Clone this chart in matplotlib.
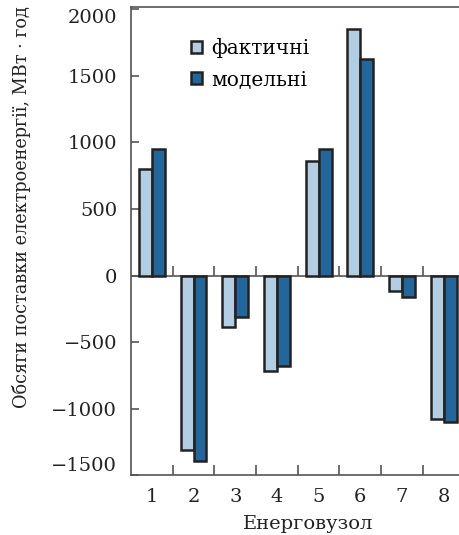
import numpy as np
import matplotlib
matplotlib.use("Agg")
import matplotlib.pyplot as plt

# дані
vuzly = [1, 2, 3, 4, 5, 6, 7, 8]
faktychni = [800, -1310, -385, -720, 860, 1850, -120, -1075]
modelni = [950, -1390, -315, -680, 950, 1630, -165, -1100]
y_ticks = [-1500, -1000, -500, 0, 500, 1000, 1500, 2000]

plt.rcParams['font.family'] = ['DejaVu Serif']
plt.rcParams['font.size'] = 14
plt.rcParams['axes.unicode_minus'] = True

c_light = '#b3cde2'
c_dark = '#23669b'
c_axis = '#555555'

fig = plt.figure(figsize=(4.6, 5.35), dpi=100)
ax = fig.add_axes([0.2848, 0.1118, 0.7152, 0.8746])

x = np.array(vuzly)
w = 0.31
ax.axhline(0, color=c_axis, lw=1.2, zorder=1)
ax.bar(x - w / 2, faktychni, w, color=c_light, edgecolor='#222222', lw=1.8,
       label='фактичні', zorder=2)
ax.bar(x + w / 2, modelni, w, color=c_dark, edgecolor='#222222', lw=1.8,
       label='модельні', zorder=2)

ax.set_xlim(0.5, 8.39)
ax.set_ylim(-1500, 2015)

# ticks between groups, labels at group centres
ax.set_xticks(x[:-1] + 0.5)
ax.set_xticklabels([])
ax.set_xticks(x, minor=True)
ax.set_xticklabels([str(v) for v in vuzly], minor=True)
ax.tick_params(axis='x', which='major', direction='in', length=7, width=1.2,
               color=c_axis)
ax.tick_params(axis='x', which='minor', length=0, pad=9, labelcolor='#222222')

ax.set_yticks(y_ticks)
ax.set_yticklabels([f'{v}'.replace('-', '\u2212') for v in y_ticks])
ax.tick_params(axis='y', direction='in', length=6, width=1.2, color=c_axis,
               pad=10, labelcolor='#222222')
ylabels = ax.get_yticklabels()
ylabels[0].set_va('bottom')
ylabels[-1].set_va('top')

# ticks on the zero line
sec = ax.secondary_xaxis(0, transform=ax.transData)
sec.set_xticks(x[:-1] + 0.5)
sec.set_xticklabels([])
sec.tick_params(direction='in', length=7, width=1.2, color=c_axis)
sec.spines['bottom'].set_visible(False)

ax.spines['right'].set_visible(False)
for s in ['left', 'bottom', 'top']:
    ax.spines[s].set_color(c_axis)
    ax.spines[s].set_linewidth(1.2)

ax.set_xlabel('Енерговузол', color='#222222')
ax.xaxis.set_label_coords(0.538, -0.085)
ax.set_ylabel('Обсяги поставки електроенергії, МВт · год', color='#222222',
              fontsize=12.7)
ax.yaxis.set_label_coords(-0.305, 0.573)

ax.legend(loc='upper left', bbox_to_anchor=(0.128, 0.973), frameon=False,
          handlelength=0.55, handleheight=0.55, handletextpad=0.45,
          labelspacing=0.62, fontsize=14.5)

plt.savefig('out.png', dpi=100)
